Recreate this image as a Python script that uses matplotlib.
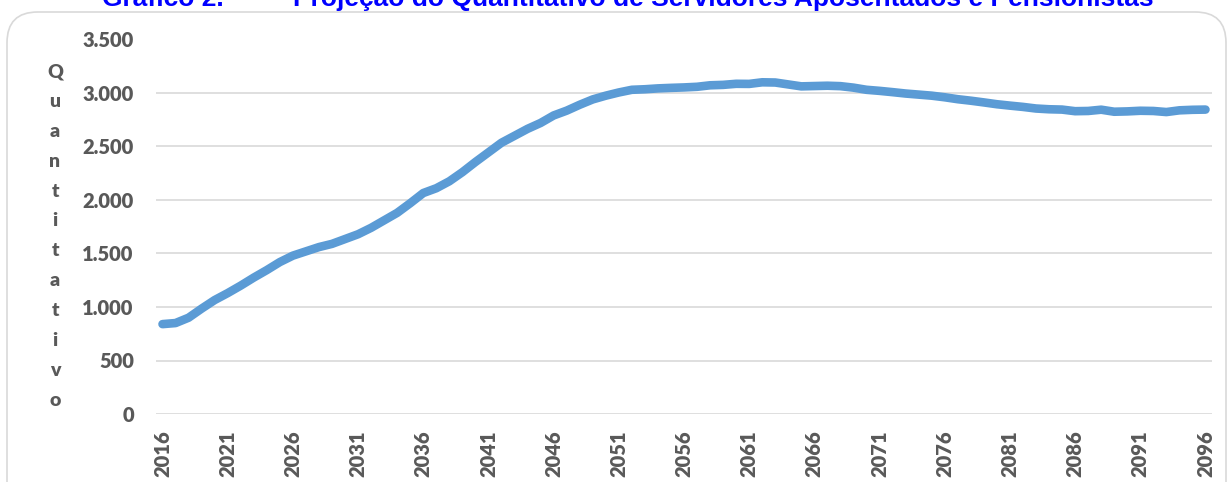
import matplotlib.pyplot as plt
from matplotlib.patches import FancyBboxPatch
from matplotlib.ticker import FuncFormatter

# Data: projected retirees + pensioners per year
years = list(range(2016, 2097))
quantitativo = [
    840, 850, 900, 985, 1065, 1130, 1200, 1275, 1345, 1420,   # 2016-2025
    1480, 1520, 1560, 1590, 1635, 1680, 1740, 1810, 1880, 1970,  # 2026-2035
    2065, 2110, 2175, 2260, 2355, 2445, 2535, 2600, 2665, 2720,  # 2036-2045
    2790, 2835, 2890, 2940, 2975, 3005, 3030, 3035, 3043, 3048,  # 2046-2055
    3052, 3058, 3072, 3076, 3086, 3085, 3100, 3098, 3080, 3062,  # 2056-2065
    3065, 3068, 3064, 3050, 3030, 3020, 3008, 2995, 2985, 2975,  # 2066-2075
    2960, 2942, 2928, 2912, 2895, 2882, 2870, 2855, 2848, 2845,  # 2076-2085
    2830, 2832, 2844, 2825, 2828, 2834, 2832, 2822, 2838, 2843,  # 2086-2095
    2845,                                                        # 2096
]
label_years = years[::5]
ylabel = "Quantitativo"
titulo_num = "Gráfico 2."
titulo = "Projeção do Quantitativo de Servidores Aposentados e Pensionistas"

W, H = 1228, 482
gray = '#595959'
fig = plt.figure(figsize=(W / 100, H / 100), dpi=100)

# rounded chart border (bottom runs off the image)
border = FancyBboxPatch((7 / W, -0.1), (1226 - 7) / W, 1.1 - 12 / H,
                        boxstyle='round,pad=0,rounding_size=0.025',
                        transform=fig.transFigure, fill=False,
                        edgecolor='#D9D9D9', linewidth=1.2,
                        mutation_aspect=W / H)
fig.patches.append(border)

ax = fig.add_axes([156 / W, 1 - 414 / H, (1212 - 156) / W, (414 - 39.5) / H])
ax.plot(years, quantitativo, color='#5B9BD5', linewidth=6.2,
        solid_capstyle='round', solid_joinstyle='round')

ax.set_xlim(2015.5, 2096.5)
ax.set_ylim(0, 3500)
ax.set_yticks(range(0, 3501, 500))
ax.yaxis.set_major_formatter(FuncFormatter(lambda v, p: f"{v:,.0f}".replace(",", ".")))
ax.set_xticks(label_years)
ax.set_xticklabels([str(y) for y in label_years], rotation=90)

ax.grid(axis='y', color='#D9D9D9', linewidth=1.2)
ax.set_axisbelow(True)
for s in ax.spines.values():
    s.set_visible(False)
ax.tick_params(length=0, labelcolor=gray)
ax.tick_params(axis='y', pad=16)
ax.tick_params(axis='x', pad=12)
for lab in ax.get_xticklabels() + ax.get_yticklabels():
    lab.set_fontfamily('Lato')
    lab.set_fontweight('heavy')
    lab.set_fontsize(14.5)

# stacked y label
for i, ch in enumerate(ylabel):
    fig.text(55 / W, 1 - (71.7 + i * 29.85) / H, ch, ha='center', va='center',
             color=gray, fontsize=14, fontweight='heavy', fontfamily='Lato')

# title (cut off at the top edge, as in the source)
fig.text(102 / W, 1 - 6 / H, titulo_num, ha='left', va='baseline',
         color='#0000FF', fontsize=19, fontweight='bold', fontfamily='Liberation Sans')
fig.text(293 / W, 1 - 6 / H, titulo, ha='left', va='baseline',
         color='#0000FF', fontsize=19, fontweight='bold', fontfamily='Liberation Sans')

plt.savefig('out.png', dpi=100)
